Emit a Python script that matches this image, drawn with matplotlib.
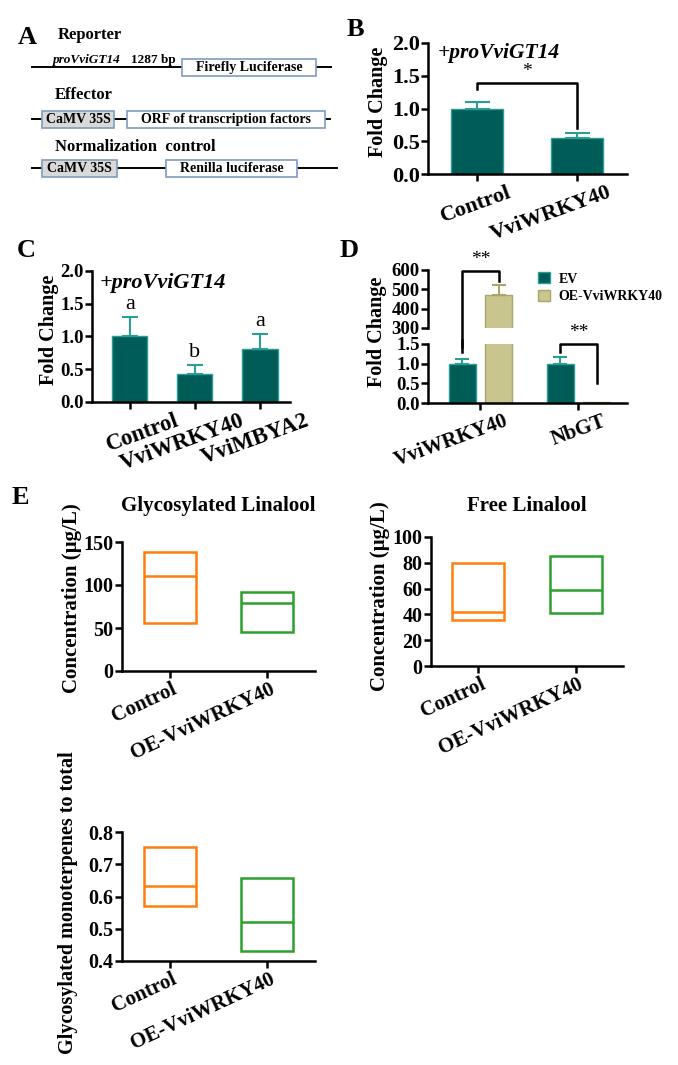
import numpy as np
import matplotlib
matplotlib.use('Agg')
import matplotlib.pyplot as plt
from matplotlib.patches import Rectangle
from matplotlib.transforms import ScaledTranslation

plt.rcParams['font.family'] = ['Liberation Serif', 'DejaVu Serif']
plt.rcParams['font.weight'] = 'bold'
plt.rcParams['axes.labelweight'] = 'bold'
plt.rcParams['axes.titleweight'] = 'bold'

# ---- data ----
b_labels = ['Control', 'VviWRKY40']
b_vals = [1.0, 0.55]
b_err = [0.10, 0.07]

c_labels = ['Control', 'VviWRKY40', 'VviMBYA2']
c_vals = [1.0, 0.43, 0.81]
c_err = [0.30, 0.13, 0.23]
c_letters = ['a', 'b', 'a']

d_groups = ['VviWRKY40', 'NbGT']
d_ev = [1.0, 1.0]
d_ev_err = [0.12, 0.18]
d_oe = [470.0, 0.03]
d_oe_err = [50.0, 0.0]

e_labels = ['Control', 'OE-VviWRKY40']
gly_low = [56, 45]
gly_med = [110, 79]
gly_high = [138, 92]
free_low = [36, 41]
free_med = [42, 59]
free_high = [80, 85]
ratio_low = [0.572, 0.430]
ratio_med = [0.633, 0.520]
ratio_high = [0.755, 0.658]

teal = '#005c57'
teal_edge = '#2a9d95'
khaki = '#c9c58e'
khaki_edge = '#a8a46a'
box_colors = ['#ff7f0e', '#2ca02c']

W, H = 678, 1065
fig = plt.figure(figsize=(W / 100, H / 100), dpi=100)


def rect(l, t, r, b):
    return [l / W, 1 - b / H, (r - l) / W, (b - t) / H]


def style(ax, fs=14):
    for s in ['top', 'right']:
        ax.spines[s].set_visible(False)
    for s in ['left', 'bottom']:
        ax.spines[s].set_linewidth(1.8)
    ax.tick_params(width=1.8, length=5, labelsize=fs, pad=1)
    ax.patch.set_visible(False)


def xlabels(ax, labels, rot, dx, fs=15):
    ax.set_xticklabels(labels, rotation=rot, ha='right', rotation_mode='anchor', fontsize=fs)
    off = ScaledTranslation(dx / 100, 0, fig.dpi_scale_trans)
    for t in ax.get_xticklabels():
        t.set_transform(t.get_transform() + off)


# ---- panel A (schematic) ----
axA = fig.add_axes(rect(0, 0, 340, 190))
axA.set_xlim(0, 340)
axA.set_ylim(190, 0)
axA.axis('off')
fig.text(18 / W, 1 - 37 / H, 'A', fontsize=19, va='center')
axA.text(58, 35, 'Reporter', fontsize=12, va='center')
axA.text(53, 60, 'proVviGT14', fontsize=9.5, style='italic', va='center')
axA.text(131, 60, '1287 bp', fontsize=9.5, va='center')
axA.text(55, 95, 'Effector', fontsize=12, va='center')
axA.text(55, 147, 'Normalization  control', fontsize=12, va='center')
box_edge = '#7f9cc0'
rows = [
    (67, [(32, 331)], [(182, 316, 'Firefly Luciferase', 'white')]),
    (119, [(32, 330)], [(42, 114, 'CaMV 35S', '#d9d9d9'), (127, 325, 'ORF of transcription factors', 'white')]),
    (168, [(32, 337)], [(42, 117, 'CaMV 35S', '#d9d9d9'), (166, 297, 'Renilla luciferase', 'white')]),
]
for y, lines, boxes in rows:
    for x0, x1 in lines:
        axA.plot([x0, x1], [y, y], color='black', lw=1.4, zorder=1)
    for x0, x1, txt, fc in boxes:
        axA.add_patch(Rectangle((x0, y - 8.5), x1 - x0, 17, facecolor=fc, edgecolor=box_edge, lw=1.2, zorder=2))
        axA.text((x0 + x1) / 2, y + 0.5, txt, ha='center', va='center', fontsize=10, zorder=3)

# ---- panel B ----
axB = fig.add_axes(rect(428, 43, 627, 174))
style(axB, 16)
xb = np.arange(len(b_labels))
axB.bar(xb, b_vals, width=0.52, color=teal, edgecolor=teal_edge, lw=1)
axB.errorbar(xb, b_vals, yerr=[np.zeros(2), b_err], fmt='none', ecolor=teal_edge, elinewidth=1.5, capsize=9, capthick=1.5)
axB.set_xlim(-0.49, 1.5)
axB.set_ylim(0, 2.0)
axB.set_yticks([0, 0.5, 1.0, 1.5, 2.0])
axB.yaxis.set_major_formatter(matplotlib.ticker.FormatStrFormatter('%.1f'))
axB.set_xticks(xb)
xlabels(axB, b_labels, 20, 30, 16)
axB.set_ylabel('Fold Change', fontsize=14.5)
axB.yaxis.set_label_coords(-0.2, 0.55)
axB.text(0.05, 0.92, '+proVviGT14', transform=axB.transAxes, fontsize=15.5, style='italic', va='center')
axB.plot([0, 0, 1, 1], [1.3, 1.39, 1.39, 0.7], color='black', lw=1.8)
axB.text(0.5, 1.56, '*', ha='center', va='center', fontsize=14, fontweight='normal')
fig.text(347 / W, 1 - 30 / H, 'B', fontsize=19, va='center')

# ---- panel C ----
axC = fig.add_axes(rect(92, 271, 290, 402))
style(axC, 13.5)
xc = np.arange(len(c_labels))
axC.bar(xc, c_vals, width=0.54, color=teal, edgecolor=teal_edge, lw=1)
axC.errorbar(xc, c_vals, yerr=[np.zeros(3), c_err], fmt='none', ecolor=teal_edge, elinewidth=1.5, capsize=6, capthick=1.5)
for xi, v, e, lt in zip(xc, c_vals, c_err, c_letters):
    axC.text(xi, v + e + 0.05, lt, ha='center', va='bottom', fontsize=16, fontweight='normal')
axC.set_xlim(-0.58, 2.46)
axC.set_ylim(0, 2.0)
axC.set_yticks([0, 0.5, 1.0, 1.5, 2.0])
axC.yaxis.set_major_formatter(matplotlib.ticker.FormatStrFormatter('%.1f'))
axC.set_xticks(xc)
xlabels(axC, c_labels, 20, 45, 16.5)
axC.set_ylabel('Fold Change', fontsize=14.5)
axC.yaxis.set_label_coords(-0.165, 0.55)
axC.text(0.04, 0.91, '+proVviGT14', transform=axC.transAxes, fontsize=16, style='italic', va='center')
fig.text(17 / W, 1 - 250 / H, 'C', fontsize=19, va='center')

# ---- panel D (broken axis) ----
axDl = fig.add_axes(rect(428, 344, 627, 403))
axDu = fig.add_axes(rect(428, 270, 627, 328))
style(axDl, 13.5)
style(axDu, 13.5)
axDu.spines['bottom'].set_visible(False)
axDu.set_xticks([])
xd = np.arange(len(d_groups))
off_ev, off_oe, wd = -0.18, 0.19, 0.28
for ax in (axDl, axDu):
    ax.bar(xd + off_ev, d_ev, width=wd, color=teal, edgecolor=teal_edge, lw=1, label='EV')
    ax.bar(xd + off_oe, d_oe, width=wd, color=khaki, edgecolor=khaki_edge, lw=1, label='OE-VviWRKY40')
    ax.set_xlim(-0.53, 1.5)
axDl.errorbar(xd + off_ev, d_ev, yerr=[np.zeros(2), d_ev_err], fmt='none', ecolor=teal_edge, elinewidth=1.5, capsize=5, capthick=1.5)
axDu.errorbar(xd[:1] + off_oe, d_oe[:1], yerr=[[0], d_oe_err[:1]], fmt='none', ecolor=khaki_edge, elinewidth=1.5, capsize=5, capthick=1.5)
axDl.set_ylim(0, 1.5)
axDl.set_yticks([0, 0.5, 1.0, 1.5])
axDl.yaxis.set_major_formatter(matplotlib.ticker.FormatStrFormatter('%.1f'))
axDu.set_ylim(300, 600)
axDu.set_yticks([300, 400, 500, 600])
axDl.set_xticks(xd)
xlabels(axDl, d_groups, 20, 24, 15)
fig.text(377 / W, 1 - 332 / H, 'Fold Change', rotation=90, fontsize=14.5, ha='center', va='center')
# brackets
axDu.plot([off_ev, off_ev, off_oe, off_oe], [200, 595, 595, 545], color='black', lw=1.8, clip_on=False)
axDl.plot([off_ev, off_ev], [1.3, 1.6], color='black', lw=1.8, clip_on=False)
axDu.text((off_ev + off_oe) / 2, 608, '**', ha='center', va='bottom', fontsize=14, fontweight='normal')
axDl.plot([1 + off_ev, 1 + off_ev, 1 + off_oe, 1 + off_oe], [1.3, 1.5, 1.5, 0.5], color='black', lw=1.8, clip_on=False)
axDl.text(1 + (off_ev + off_oe) / 2, 1.58, '**', ha='center', va='bottom', fontsize=14, fontweight='normal', clip_on=False)
axDu.legend(loc='upper left', bbox_to_anchor=(531 / W, 1 - 265 / H), bbox_transform=fig.transFigure,
            frameon=False, fontsize=10, handlelength=0.9, handleheight=0.9, handletextpad=0.6,
            labelspacing=0.3, borderpad=0)
fig.text(340 / W, 1 - 250 / H, 'D', fontsize=19, va='center')

# ---- panel E ----
fig.text(12 / W, 1 - 497 / H, 'E', fontsize=19, va='center')


def floating_box(ax, low, med, high):
    xs = np.arange(len(low))
    heights = np.array(high) - np.array(low)
    ax.bar(xs, heights, bottom=low, width=0.53, fill=False, edgecolor=box_colors, lw=1.8)
    ax.hlines(med, xs - 0.265, xs + 0.265, colors=box_colors, lw=1.8)
    ax.set_xticks(xs)
    xlabels(ax, e_labels, 25, 2, 15)


axE1 = fig.add_axes(rect(122, 542, 315, 671))
style(axE1, 14.5)
floating_box(axE1, gly_low, gly_med, gly_high)
axE1.set_xlim(-0.49, 1.49)
axE1.set_ylim(0, 150)
axE1.set_yticks([0, 50, 100, 150])
axE1.set_ylabel('Concentration (µg/L)', fontsize=15)
axE1.yaxis.set_label_coords(-0.207, 0.566)
axE1.set_title('Glycosylated Linalool', fontsize=15, pad=22)

axE2 = fig.add_axes(rect(431, 537, 623, 666))
style(axE2, 14.5)
floating_box(axE2, free_low, free_med, free_high)
axE2.set_xlim(-0.48, 1.48)
axE2.set_ylim(0, 100)
axE2.set_yticks([0, 20, 40, 60, 80, 100])
axE2.set_ylabel('Concentration (µg/L)', fontsize=15)
axE2.yaxis.set_label_coords(-0.214, 0.54)
axE2.set_title('Free Linalool', fontsize=15, pad=19)

axE3 = fig.add_axes(rect(122, 832, 315, 961))
style(axE3, 14.5)
floating_box(axE3, ratio_low, ratio_med, ratio_high)
axE3.set_xlim(-0.49, 1.49)
axE3.set_ylim(0.4, 0.8)
axE3.set_yticks([0.4, 0.5, 0.6, 0.7, 0.8])
axE3.set_ylabel('Glycosylated monoterpenes to total', fontsize=14.5)
axE3.yaxis.set_label_coords(-0.228, 0.45)

fig.savefig('out.png', dpi=100)
